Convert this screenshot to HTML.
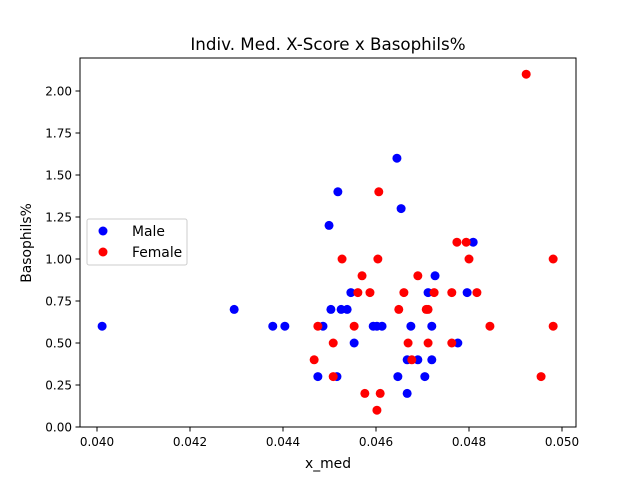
<!DOCTYPE html>
<html><head><meta charset="utf-8"><style>
body{margin:0;background:#fff}
svg text{font-family:"DejaVu Sans","Liberation Sans",sans-serif;fill:#000}
</style></head><body>
<svg id="chart" width="640" height="480" xmlns="http://www.w3.org/2000/svg">
<rect width="640" height="480" fill="#fff"/>
<g id="marks"></g>
<rect x="80" y="58" width="496" height="369" fill="none" stroke="#000" stroke-width="1"/>
<g id="axes"></g>
<text x="328" y="50" font-size="16.7" text-anchor="middle">Indiv. Med. X-Score x Basophils%</text>
<text x="328" y="468" font-size="13.9" text-anchor="middle">x_med</text>
<text transform="translate(31,243) rotate(-90)" font-size="13.9" text-anchor="middle">Basophils%</text>
<g>
<rect x="87" y="219" width="100" height="46" rx="2" fill="#fff" fill-opacity="0.8" stroke="#ccc"/>
<circle cx="103" cy="231" r="4.5" fill="#0000ff"/>
<text x="132" y="236" font-size="13.9">Male</text>
<circle cx="103" cy="252" r="4.5" fill="#ff0000"/>
<text x="132" y="257" font-size="13.9">Female</text>
</g>
</svg>
<script>
const xTicks=[0.040,0.042,0.044,0.046,0.048,0.050];
const xTickLabels=["0.040","0.042","0.044","0.046","0.048","0.050"];
const yTicks=[0,0.25,0.5,0.75,1.0,1.25,1.5,1.75,2.0];
const yTickLabels=["0.00","0.25","0.50","0.75","1.00","1.25","1.50","1.75","2.00"];
const maleX=[0.04011,0.04295,0.04378,0.04404,0.04645,0.04518,0.04654,0.04499,0.04727,0.04809,0.04546,0.04712,0.04796,0.04503,0.04525,0.04538,0.04486,0.04594,0.04602,0.04613,0.04675,0.04720,0.04553,0.04776,0.04667,0.04690,0.04720,0.04475,0.04516,0.04647,0.04705,0.04667];
const maleY=[0.6,0.7,0.6,0.6,1.6,1.4,1.3,1.2,0.9,1.1,0.8,0.8,0.8,0.7,0.7,0.7,0.6,0.6,0.6,0.6,0.6,0.6,0.5,0.5,0.4,0.4,0.4,0.3,0.3,0.3,0.3,0.2];
const femaleX=[0.04923,0.04606,0.04527,0.04604,0.04800,0.04981,0.04774,0.04794,0.04570,0.04690,0.04561,0.04587,0.04660,0.04725,0.04763,0.04817,0.04649,0.04708,0.04712,0.04475,0.04553,0.04845,0.04981,0.04508,0.04669,0.04712,0.04763,0.04467,0.04677,0.04508,0.04955,0.04576,0.04609,0.04602];
const femaleY=[2.1,1.4,1.0,1.0,1.0,1.0,1.1,1.1,0.9,0.9,0.8,0.8,0.8,0.8,0.8,0.8,0.7,0.7,0.7,0.6,0.6,0.6,0.6,0.5,0.5,0.5,0.5,0.4,0.4,0.3,0.3,0.2,0.2,0.1];
const NS="http://www.w3.org/2000/svg";
function sx(v){return 97+(v-0.040)/0.010*465;}
function sy(v){return 427-v/2.0*336;}
const axes=document.getElementById('axes'), marks=document.getElementById('marks');
function mk(tag,attrs,parent){const e=document.createElementNS(NS,tag);for(const k in attrs)e.setAttribute(k,attrs[k]);parent.appendChild(e);return e;}
xTicks.forEach((t,i)=>{
  const x=sx(t);
  const l=mk('line',{x1:x,x2:x,y1:427,y2:431.5,stroke:'#000'},axes);
  
  
  const tx=mk('text',{x:x,y:446,'font-size':12,'text-anchor':'middle'},axes);
  tx.textContent=xTickLabels[i];
  
  
});
yTicks.forEach((t,i)=>{
  const y=sy(t);
  const l=mk('line',{x1:75.5,x2:80,y1:y,y2:y,stroke:'#000'},axes);
  
  
  const tx=mk('text',{x:72,y:y+4.3,'font-size':12,'text-anchor':'end'},axes);
  tx.textContent=yTickLabels[i];
  
  
});
maleX.forEach((v,i)=>{
  const c=mk('circle',{cx:sx(v),cy:sy(maleY[i]),r:4.5,fill:'#0000ff'},marks);
  
  
});
femaleX.forEach((v,i)=>{
  const c=mk('circle',{cx:sx(v),cy:sy(femaleY[i]),r:4.5,fill:'#ff0000'},marks);
  
  
});
</script>
</body></html>
